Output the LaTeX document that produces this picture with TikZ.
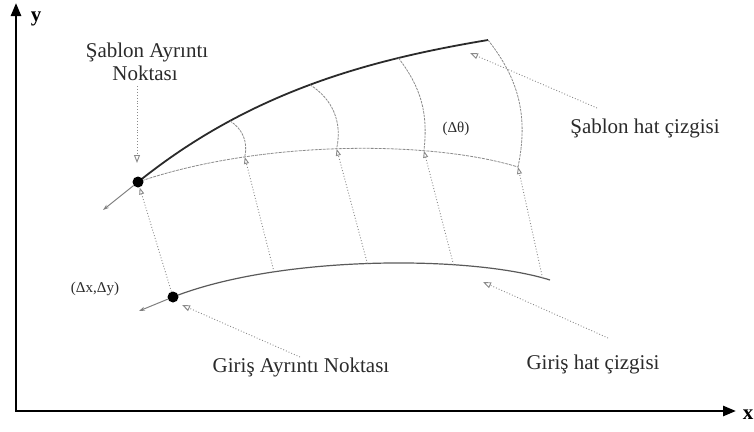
\documentclass[tikz,border=0pt]{standalone}
\usepackage{fontspec}
\setmainfont{Liberation Serif}
\usetikzlibrary{arrows.meta}
\definecolor{tcol}{HTML}{2A2A2A}
\definecolor{lgray}{HTML}{8A8A8A}
\definecolor{mgray}{HTML}{5A5A5A}
\begin{document}
\begin{tikzpicture}[x=1pt,y=-1pt,
  lbl/.style={font=\fontsize{21}{24}\selectfont, text=tcol, inner sep=0pt, anchor=base},
  smalllbl/.style={font=\fontsize{15}{18}\selectfont, text=tcol, inner sep=0pt},
  axislbl/.style={font=\bfseries\fontsize{21}{24}\selectfont, inner sep=0pt},
  axis/.style={line width=2.6pt, black, line join=miter, {Triangle[length=13pt,width=10pt]}-{Triangle[length=13pt,width=10pt]}},
  tmpline/.style={line width=1.8pt, tcol},
  rotline/.style={line width=0.8pt, lgray, dash pattern=on 3pt off 1pt},
  inline/.style={line width=1.2pt, mgray},
  arcline/.style={line width=0.8pt, lgray, dash pattern=on 2.5pt off 1pt},
  proj/.style={line width=0.9pt, lgray, dotted, -{Triangle[open,length=7pt,width=5pt]}},
  leader/.style={line width=0.9pt, lgray, dotted, -{Triangle[open,length=8pt,width=6pt]}},
  tang/.style={line width=1pt, gray, -{Stealth[length=6pt,width=4pt]}},
  dot/.style={circle, fill=black, minimum size=11pt, inner sep=0pt},
]
\useasboundingbox (0,0) rectangle (754,431);

% axes
\coordinate (ytip) at (16,3);
\coordinate (orig) at (16,411);
\coordinate (xtip) at (736,411);
\draw[axis] (ytip) -- (orig) -- (xtip);
\node[axislbl] (ylab) at (36,19) {y};
\node[axislbl] (xlab) at (748,415) {x};

% key points
\coordinate (P) at (138,182);
\coordinate (Q) at (173,297);
\coordinate (tend) at (488,40);
\coordinate (rend) at (518,167);
\coordinate (iend) at (550,280);

% template line
\draw[tmpline] (P) .. controls (250,92) and (368,60) ..
   coordinate[pos=0.27] (T1) coordinate[pos=0.5] (T2) coordinate[pos=0.75] (T3) (tend);
% rotated input line
\draw[rotline] (P) .. controls (260,140) and (430,140) ..
   coordinate[pos=0.27] (D1) coordinate[pos=0.49] (D2) coordinate[pos=0.71] (D3) (rend);
% input line
\draw[inline] (Q) .. controls (280,255) and (470,255) ..
   coordinate[pos=0.27] (I1) coordinate[pos=0.49] (I2) coordinate[pos=0.7] (I3) coordinate[pos=0.97] (I4) (iend);

% rotation arcs
\draw[arcline] (T1) to[bend left=35] (D1);
\draw[arcline] (T2) to[bend left=35] (D2);
\draw[arcline] (T3) to[bend left=22] (D3);
\draw[arcline] (tend) to[bend left=25] (rend);

% dots
\node[dot] (tp) at (P) {};
\node[dot] (ip) at (Q) {};

% projections
\draw[proj] (ip) -- (tp);
\draw[proj] (I1) -- (D1);
\draw[proj] (I2) -- (D2);
\draw[proj] (I3) -- (D3);
\draw[proj] (I4) -- (rend);

% tangent arrows
\coordinate (ta) at (103,210);
\coordinate (ia) at (139,311);
\draw[tang] (tp) -- (ta);
\draw[tang] (ip) -- (ia);

% labels
\node[lbl] (sa1) at (147,57) {Şablon Ayrıntı};
\node[lbl] (sa2) at (145,80) {Noktası};
\node[smalllbl] (dth) at (456,129) {(Δθ)};
\node[lbl] (sh) at (645,133) {Şablon hat çizgisi};
\node[smalllbl] (dxy) at (95,289) {(Δx,Δy)};
\node[lbl] (ga) at (301,372) {Giriş Ayrıntı Noktası};
\node[lbl] (gh) at (593,369) {Giriş hat çizgisi};

% leaders
\coordinate (l1s) at (137,86);
\coordinate (l1e) at (137,163);
\draw[leader] (l1s) -- (l1e);
\coordinate (l2s) at (597,108);
\coordinate (l2e) at (470,53);
\draw[leader] (l2s) -- (l2e);
\coordinate (l3s) at (300,357);
\coordinate (l3e) at (182,305);
\draw[leader] (l3s) -- (l3e);
\coordinate (l4s) at (608,338);
\coordinate (l4e) at (483,282);
\draw[leader] (l4s) -- (l4e);
\end{tikzpicture}
\end{document}
